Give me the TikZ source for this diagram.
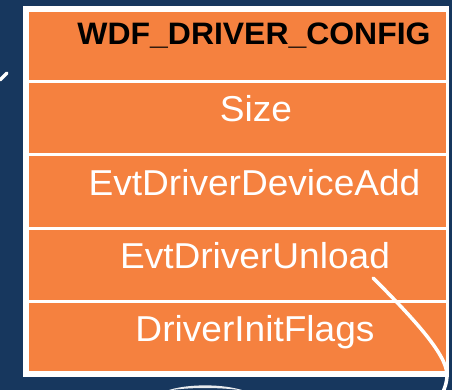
\documentclass[tikz,border=0pt]{standalone}
\usepackage{graphicx}
\usepackage{fontspec}
\setmainfont{Liberation Sans}
\definecolor{navy}{RGB}{23,55,94}
\definecolor{cellorange}{RGB}{245,129,63}
\begin{document}
\begin{tikzpicture}[x=1pt,y=-1pt,
  cell/.style={anchor=base,inner sep=0pt,text=white,font=\fontsize{36}{40}\selectfont},
  headtext/.style={anchor=base,inner sep=0pt,text=black,font=\fontsize{31}{36}\selectfont\bfseries},
  rowrule/.style={white,line width=3pt},
  wire/.style={white,line width=3.5pt,line cap=round}]
% background and canvas
\fill[navy] (0,0) rectangle (452,390);
\useasboundingbox (0,0) rectangle (452,390);
% table frame and body
\fill[white] (23,6) rectangle (449,377);
\fill[cellorange] (29,12) rectangle (446,371);
\foreach \y in {81.5,155,228,301.5} \draw[rowrule] (29,\y) -- (446,\y);
% field names
\node[headtext] (hdr) at (254,45) {\scalebox{1.03}[1]{WDF\_DRIVER\_CONFIG}};
\node[cell] (size) at (256,122) {\scalebox{1.03}[1]{Size}};
\node[cell] (devadd) at (254.5,195) {\scalebox{1.03}[1]{EvtDriverDeviceAdd}};
\node[cell] (unload) at (255,268) {\scalebox{1.03}[1]{EvtDriverUnload}};
\node[cell] (flags) at (255,341) {\scalebox{1.03}[1]{DriverInitFlags}};
% pointer leaving the unload callback
\coordinate (tail) at (443,392);
\draw[wire] ([xshift=-17pt,yshift=-10pt]unload.base east)
  .. controls (415,320) and (447,355) .. (447,375)
  .. controls (447,382) and (445,387) .. (tail);
% other pointer fragments
\draw[wire] (0,80) -- (7,73);
% thin crescent: the top of a loop below the table
\fill[white,opacity=0.9] (166,391)
  .. controls (186,383.5) and (224,383.5) .. (245,391)
  .. controls (224,387) and (186,387) .. cycle;
\end{tikzpicture}
\end{document}
